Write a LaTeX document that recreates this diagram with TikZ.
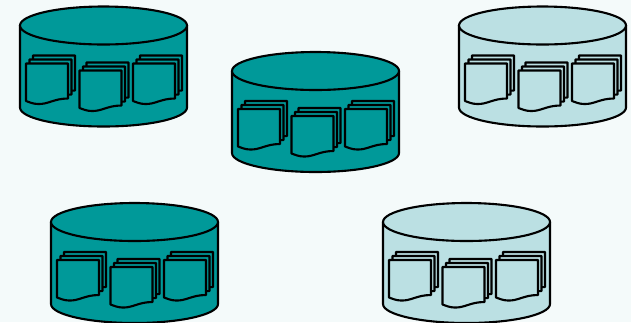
\documentclass[tikz,border=0pt]{standalone}
\definecolor{dbteal}{RGB}{0,153,153}
\definecolor{dbpale}{RGB}{187,224,227}
\definecolor{dbback}{RGB}{244,250,250}
\tikzset{
  dbline/.style={draw=black, line width=1.2pt, line join=round},
  pics/sheet/.style={code={
    \draw[dbline, fill=#1] (0,0) -- (42,0) -- (42,35) .. controls (28,35) and (22,41) .. (12,40.5) .. controls (7,40.5) and (3,38.5) .. (0,37.5) -- cycle;
  }},
  pics/sheetstack/.style={code={
    \pic at (7,-8) {sheet=#1};
    \pic at (3.5,-4) {sheet=#1};
    \pic at (0,0) {sheet=#1};
  }},
  pics/dbdisk/.style={code={
    % Body
    \draw[dbline, fill=#1] (0,19) -- (0,101) arc[start angle=180, end angle=0, x radius=83.5, y radius=19] -- (167,19) -- cycle;
    % Lid
    \draw[dbline, fill=#1] (83.5,19) ellipse[x radius=83.5, y radius=19];
    % Sheets
    \pic at (6,57) {sheetstack=#1};
    \pic at (59.5,64) {sheetstack=#1};
    \pic at (113,57) {sheetstack=#1};
  }}
}
\begin{document}
\begin{tikzpicture}[x=0.02cm, y=-0.02cm]
  % Background
  \fill[dbback] (0,0) rectangle (631,322);
  \clip (0,0) rectangle (631,322);
  % Top row
  \pic at (20,6.5) {dbdisk=dbteal};
  \pic at (232,52) {dbdisk=dbteal};
  \pic at (459,6.5) {dbdisk=dbpale};
  % Bottom row
  \pic at (51,203) {dbdisk=dbteal};
  \pic at (383,203) {dbdisk=dbpale};
\end{tikzpicture}
\end{document}
